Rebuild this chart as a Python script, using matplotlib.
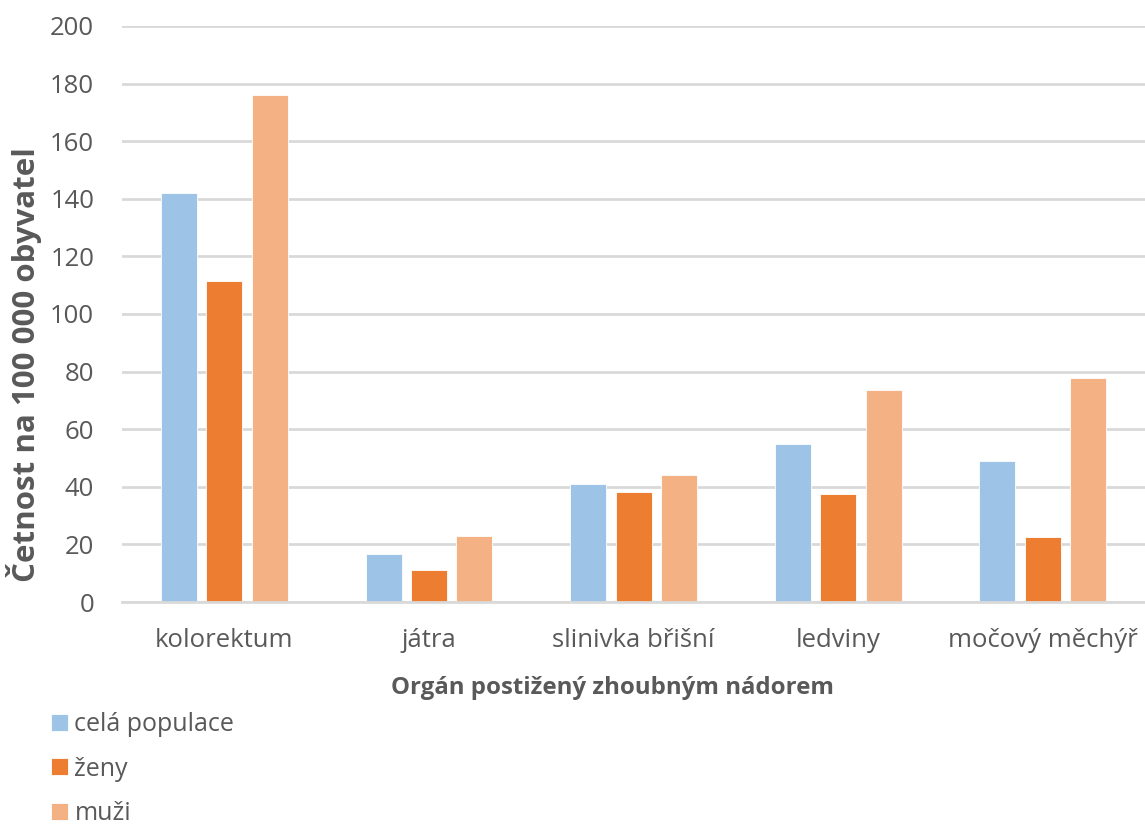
import matplotlib
matplotlib.use("Agg")
import matplotlib.pyplot as plt
import numpy as np

plt.rcParams['font.family'] = ['Open Sans', 'DejaVu Sans']

categories = ["kolorektum", "játra", "slinivka břišní", "ledviny", "močový měchýř"]
series_names = ["celá populace", "ženy", "muži"]
cela = [142.1, 16.8, 41.0, 54.8, 48.9]
zeny = [111.4, 11.2, 38.3, 37.4, 22.4]
muzi = [176.2, 22.9, 44.0, 73.7, 77.9]
colors = ["#9DC3E6", "#ED7D31", "#F4B183"]
TXT = "#595959"

fig = plt.figure(figsize=(11.45, 8.25), dpi=100)
ax = fig.add_axes([0.1066, 0.2703, 0.8934, 0.6982])

x = np.arange(len(categories))
w = 0.176
step = 0.222
bars = []
for i, (vals, c, name) in enumerate(zip([cela, zeny, muzi], colors, series_names)):
    b = ax.bar(x + (i - 1) * step, vals, w, color=c, label=name,
               edgecolor="white", linewidth=0.6, zorder=2)
    bars.append(b)

ax.set_xlim(-0.5, len(categories) - 0.5)
ax.set_ylim(0, 200)
ax.set_yticks(np.arange(0, 201, 20))
ax.yaxis.grid(True, color="#D9D9D9", linewidth=2, zorder=0)
ax.set_axisbelow(True)
for s in ["top", "right", "left"]:
    ax.spines[s].set_visible(False)
ax.spines["bottom"].set_color("#D9D9D9")
ax.spines["bottom"].set_linewidth(2)
ax.tick_params(axis="both", length=0, labelsize=18.5, colors=TXT)
ax.tick_params(axis="x", pad=18.5)
ax.tick_params(axis="y", pad=20)
ax.set_xticks(x)
ax.set_xticklabels(categories)

# y label sits lower than the axes centre in the original
fig.text(24 / 1145, 1 - 365 / 825, "Četnost na 100 000 obyvatel", rotation=90,
         ha="center", va="center", fontsize=22.5, fontweight="bold", color=TXT)
ax.set_xlabel("Orgán postižený zhoubným nádorem", fontsize=17.3, fontweight="bold", color=TXT, labelpad=16.5)
ax.xaxis.label.set_x(0.479)

fig.legend(handles=bars, labels=series_names, loc="upper left", bbox_to_anchor=(0.036, 0.149),
           frameon=False, fontsize=18, labelcolor=TXT, handlelength=0.68, handleheight=0.68,
           handletextpad=0.25, labelspacing=0.78, borderaxespad=0)

fig.savefig("out.png", dpi=100)
